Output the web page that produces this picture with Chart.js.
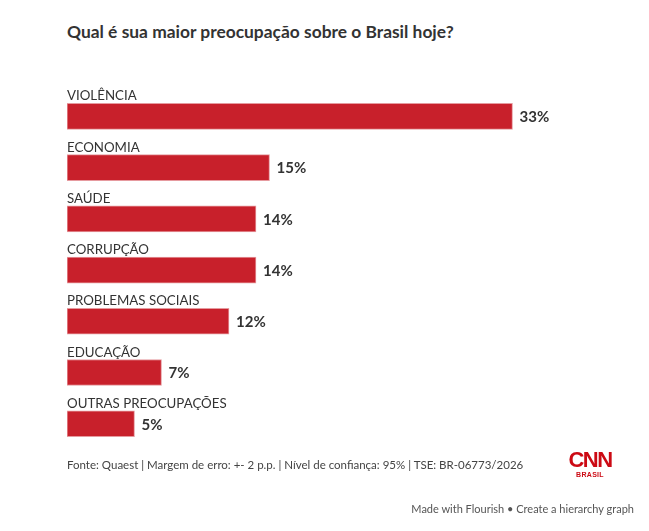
<!DOCTYPE html>
<html>
<head>
<meta charset="utf-8">
<script src="https://cdn.jsdelivr.net/npm/chart.js@4"></script>
<style>
  body { margin: 0; background: #fff; width: 649px; height: 531px; overflow: hidden; position: relative; font-family: Lato, sans-serif; color: #333; }
  #titulo { position: absolute; left: 67px; top: 21px; font-size: 17.4px; font-weight: bold; color: #333; white-space: nowrap; }
  #grafico { position: absolute; left: 0; top: 0; }
  #fonte { position: absolute; left: 67px; top: 458px; font-size: 11.5px; color: #444; white-space: nowrap; }
  #logo { position: absolute; left: 568px; top: 448px; width: 44px; text-align: center; color: #cc0a14; }
  #logo .cnn { font-family: "Liberation Sans", sans-serif; font-weight: bold; font-size: 22px; letter-spacing: -1.5px; line-height: 23px; }
  #logo .br { font-family: "Liberation Sans", sans-serif; font-weight: bold; font-size: 7px; line-height: 8px; letter-spacing: 0.3px; }
  #flourish { position: absolute; right: 15px; top: 502px; font-size: 11px; color: #555; white-space: nowrap; }
</style>
</head>
<body>
<div id="titulo">Qual é sua maior preocupação sobre o Brasil hoje?</div>
<canvas id="grafico" width="649" height="531"></canvas>
<div id="fonte">Fonte: Quaest | Margem de erro: +- 2 p.p. | Nível de confiança: 95% | TSE: BR-06773/2026</div>
<div id="logo"><div class="cnn">CNN</div><div class="br">BRASIL</div></div>
<div id="flourish">Made with Flourish • Create a hierarchy graph</div>
<script>
// ======= Dados =======
const categorias = ["VIOLÊNCIA", "ECONOMIA", "SAÚDE", "CORRUPÇÃO", "PROBLEMAS SOCIAIS", "EDUCAÇÃO", "OUTRAS PREOCUPAÇÕES"];
const valores = [33, 15, 14, 14, 12, 7, 5];
const escalaMax = 42;

// ======= Rótulos (categoria acima, valor à direita) =======
const rotulos = {
  id: "rotulos",
  afterDatasetsDraw(chart) {
    const c = chart.ctx;
    const meta = chart.getDatasetMeta(0);
    c.save();
    meta.data.forEach((bar, i) => {
      const h = bar.height;
      c.fillStyle = "#333";
      c.font = "13.3px Lato";
      c.textAlign = "left";
      c.textBaseline = "alphabetic";
      c.fillText(categorias[i], chart.chartArea.left, bar.y - h / 2 - 3);
      c.font = "bold 15px Lato";
      c.textBaseline = "middle";
      c.fillText(valores[i] + "%", bar.x + 7, bar.y + 1);
    });
    c.restore();
  }
};

const ctx = document.getElementById("grafico").getContext("2d");
new Chart(ctx, {
  type: "bar",
  data: {
    labels: categorias,
    datasets: [{
      data: valores,
      backgroundColor: "#c8202b",
      borderColor: "rgba(200, 32, 43, 0.45)",
      borderWidth: 1,
      borderSkipped: false,
      barThickness: 26
    }]
  },
  options: {
    indexAxis: "y",
    responsive: false,
    animation: false,
    layout: { padding: { left: 67, right: 15, top: 90.7, bottom: 81.6 } },
    scales: {
      x: { display: false, min: 0, max: escalaMax },
      y: { display: false }
    },
    plugins: { legend: { display: false }, tooltip: { enabled: false } }
  },
  plugins: [rotulos]
});
</script>
</body>
</html>
